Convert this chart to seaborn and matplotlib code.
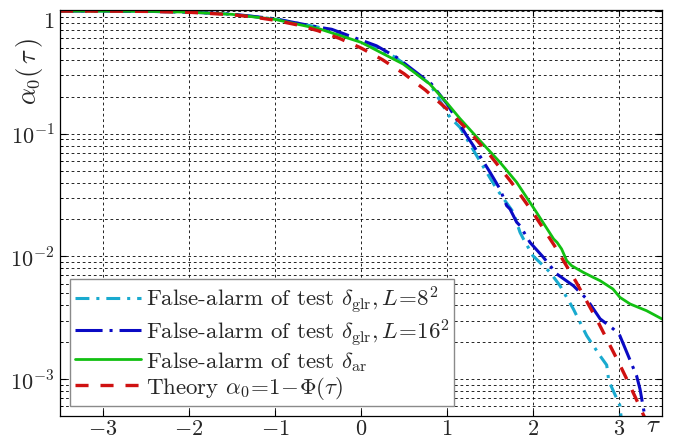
import matplotlib
matplotlib.use("Agg")
import matplotlib.pyplot as plt
from matplotlib.ticker import FixedLocator, FixedFormatter, LogLocator, NullFormatter
from matplotlib.transforms import ScaledTranslation
import seaborn as sns

# Theory curve alpha_0 = 1 - Phi(tau)
tau_theory = [-3.5, -3.0, -2.5, -2.0, -1.5, -1.25, -1.0, -0.75, -0.5, -0.25, 0.0,
              0.25, 0.5, 0.75, 1.0, 1.25, 1.5, 1.75, 2.0, 2.25, 2.5, 2.75, 3.0,
              3.1, 3.2, 3.3]
alpha_theory = [0.99977, 0.99865, 0.99379, 0.97725, 0.93319, 0.89435, 0.84134,
                0.77337, 0.69146, 0.59871, 0.5, 0.40129, 0.30854, 0.22663,
                0.15866, 0.10565, 0.06681, 0.04006, 0.02275, 0.01222, 0.00621,
                0.00298, 0.00135, 0.000968, 0.000687, 0.000483]

# Empirical false-alarm, GLR test, L = 8^2
tau_glr8 = [-3.5, -3.0, -2.5, -2.0, -1.5, -1.0, -0.5, 0.0, 0.4, 0.8, 1.035,
            1.151, 1.345, 1.578, 1.771, 1.849, 1.888, 2.0, 2.04, 2.198, 2.314,
            2.469, 2.624, 2.779, 2.857, 2.88, 2.895, 3.01, 3.035]
alpha_glr8 = [0.9998, 0.999, 0.995, 0.98, 0.943, 0.862, 0.74, 0.565, 0.42,
              0.255, 0.136, 0.1127, 0.0662, 0.0354, 0.0229, 0.0157, 0.0139,
              0.0101, 0.0095, 0.00742, 0.00577, 0.00373, 0.00226, 0.00155,
              0.0013, 0.00098, 0.00092, 0.00061, 0.00042]

# Empirical false-alarm, GLR test, L = 16^2
tau_glr16 = [-3.5, -3.0, -2.5, -2.0, -1.5, -1.0, -0.5, -0.34, -0.03, 0.18,
             0.415, 0.82, 1.0, 1.229, 1.345, 1.5, 1.616, 1.694, 1.733, 1.81,
             1.849, 1.965, 2.12, 2.275, 2.469, 2.624, 2.78, 2.934, 3.01,
             3.205, 3.244, 3.30, 3.32]
alpha_glr16 = [0.9998, 0.999, 0.995, 0.98, 0.945, 0.865, 0.74, 0.71, 0.59,
               0.521, 0.419, 0.254, 0.175, 0.0964, 0.0727, 0.0485, 0.0354,
               0.0259, 0.0243, 0.019, 0.0178, 0.0130, 0.00984, 0.0072,
               0.00577, 0.0045, 0.0031, 0.00256, 0.00226, 0.00106, 0.00083,
               0.0005, 0.00045]

# Empirical false-alarm, AR test
tau_ar = [-3.5, -3.0, -2.5, -2.0, -1.5, -1.0, -0.477, 0.0, 0.49, 0.80, 1.0,
          1.15, 1.384, 1.616, 1.81, 2.04, 2.24, 2.28, 2.333, 2.392, 2.45,
          2.585, 2.70, 2.78, 2.93, 3.01, 3.13, 3.32, 3.5]
alpha_ar = [0.9998, 0.999, 0.995, 0.98, 0.94, 0.855, 0.713, 0.556, 0.37,
            0.254, 0.178, 0.133, 0.0877, 0.0585, 0.0402, 0.0229, 0.01386,
            0.0130, 0.01148, 0.00923, 0.00839, 0.00741, 0.00675, 0.00634,
            0.00542, 0.00464, 0.00409, 0.00361, 0.00309]

x_ticks = [-3, -2, -1, 0, 1, 2, 3]
x_tick_labels = ["$-3$", "$-2$", "$-1$", "$0$", "$1$", "$2$", "$3$"]
y_ticks = [1e-3, 1e-2, 1e-1, 1.0]
y_tick_labels = ["$10^{-3}$", "$10^{-2}$", "$10^{-1}$", "$1$"]

legend_labels = [
    r"False-alarm of test $\delta_{\rm glr}, L\!=\!8^2$",
    r"False-alarm of test $\delta_{\rm glr}, L\!=\!16^2$",
    r"False-alarm of test $\delta_{\rm ar}$",
    r"Theory $\alpha_0\!=\!1\!-\!\Phi(\tau)$",
]

sns.set_style("white")
plt.rcParams["font.family"] = ["cmr10", "DejaVu Serif"]
plt.rcParams["mathtext.fontset"] = "cm"
plt.rcParams["axes.formatter.use_mathtext"] = True
plt.rcParams["lines.scale_dashes"] = False

fig = plt.figure(figsize=(6.83, 4.39), dpi=100)
ax = fig.add_axes([60 / 683, 22 / 439, 602 / 683, 406 / 439])

styles = [
    dict(x=tau_glr8, y=alpha_glr8, color="#19aacf", lw=2.2,
         ls=(0, (10, 5, 2.2, 5))),
    dict(x=tau_glr16, y=alpha_glr16, color="#0a0ac4", lw=2.2,
         ls=(0, (19.5, 5, 2.2, 5))),
    dict(x=tau_ar, y=alpha_ar, color="#12c012", lw=2.0, ls="-"),
    dict(x=tau_theory, y=alpha_theory, color="#cf1111", lw=2.4,
         ls=(0, (9.4, 8.6))),
]
for s, lab in zip(styles, legend_labels):
    sns.lineplot(x=s["x"], y=s["y"], ax=ax, color=s["color"], linewidth=s["lw"],
                 linestyle=s["ls"], label=lab, estimator=None, errorbar=None,
                 sort=False, dash_capstyle="butt")

ax.set_yscale("log")
ax.set_xlim(-3.5, 3.5)
ax.set_ylim(5e-4, 1.02)

ax.xaxis.set_major_locator(FixedLocator(x_ticks))
ax.xaxis.set_major_formatter(FixedFormatter(x_tick_labels))
ax.yaxis.set_major_locator(FixedLocator(y_ticks))
ax.yaxis.set_major_formatter(FixedFormatter(y_tick_labels))
ax.yaxis.set_minor_locator(LogLocator(base=10, subs=range(2, 10), numticks=20))
ax.yaxis.set_minor_formatter(NullFormatter())

ax.tick_params(which="both", direction="in", top=True, right=True,
               bottom=True, left=True, color="black", labelsize=16)
ax.tick_params(which="major", length=4.5, width=0.8)
ax.tick_params(which="minor", length=2.5, width=0.6)
ax.tick_params(axis="x", which="major", pad=1.5)
ax.tick_params(axis="y", which="major", pad=4)

ax.grid(True, which="major", axis="both", color="black", linestyle=(0, (2, 2)),
        linewidth=0.6)
ax.grid(True, which="minor", axis="y", color="black", linestyle=(0, (2, 2)),
        linewidth=0.6)
ax.set_axisbelow(True)

for sp in ax.spines.values():
    sp.set_color("black")
    sp.set_linewidth(0.9)

# nudge the top "1" label down inside the frame
for lbl in ax.get_yticklabels():
    if lbl.get_text() == "$1$":
        lbl.set_transform(lbl.get_transform() +
                          ScaledTranslation(0, -8 / 100, fig.dpi_scale_trans))

ax.set_xlabel(r"$\tau$", fontsize=18, va="bottom")
ax.xaxis.set_label_coords(0.985, -0.05)
ax.set_ylabel(r"$\alpha_0(\,\tau\,)$", fontsize=19, va="center")
ax.yaxis.set_label_coords(-0.05, 0.85)

leg = ax.legend(loc="lower left", bbox_to_anchor=(0.0166, 0.0246),
                borderaxespad=0, fontsize=16.5, frameon=True, fancybox=False,
                framealpha=1, edgecolor="#8a8a8a", handlelength=2.9,
                handletextpad=0.2, labelspacing=0.06, borderpad=0.2)
leg.get_frame().set_linewidth(1.0)

fig.savefig("out.png", dpi=100)
